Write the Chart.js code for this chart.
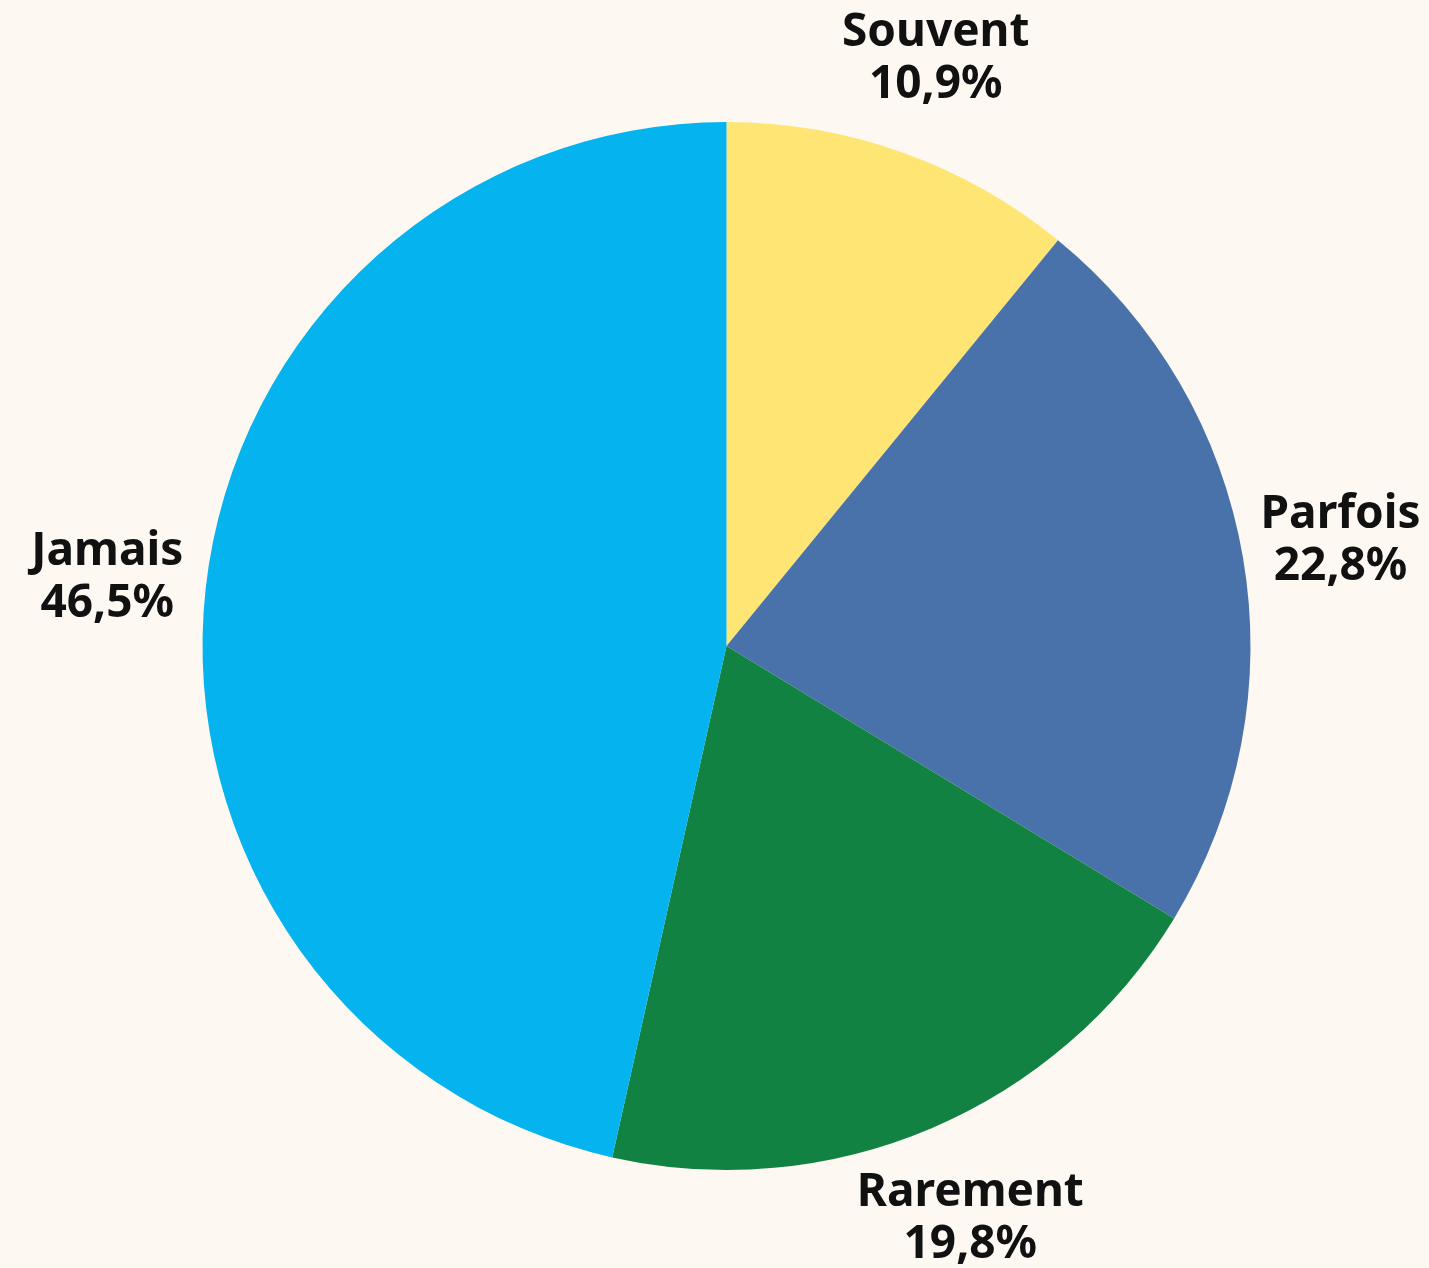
<!DOCTYPE html>
<html lang="fr">
<head>
  <meta charset="UTF-8" />
  <title>Pie</title>
  <script src="https://cdn.jsdelivr.net/npm/chart.js"></script>
  <style>
    html, body { margin: 0; padding: 0; background: #fdf8f2; }
    #wrap { width: 1429px; height: 1268px; }
  </style>
</head>
<body>
<div id="wrap"><canvas id="pie" width="1429" height="1268"></canvas></div>
<script>
  const categories = ['Souvent', 'Parfois', 'Rarement', 'Jamais'];
  const values = [10.9, 22.8, 19.8, 46.5];
  const colors = ['#ffe574', '#4a72aa', '#128242', '#05b3ee'];

  // labels outside each slice, centred on the mid angle
  const outerLabels = {
    id: 'outerLabels',
    afterDatasetsDraw(chart) {
      const ctx = chart.ctx;
      const meta = chart.getDatasetMeta(0);
      ctx.save();
      ctx.font = 'bold 46px "Noto Sans"';
      ctx.fillStyle = '#111';
      ctx.textAlign = 'center';
      ctx.textBaseline = 'middle';
      meta.data.forEach((arc, i) => {
        const mid = (arc.startAngle + arc.endAngle) / 2;
        const r = arc.outerRadius + 99;
        const x = arc.x + Math.cos(mid) * r;
        const y = arc.y + Math.sin(mid) * r;
        const pct = values[i].toFixed(1).replace('.', ',') + '%';
        ctx.fillText(categories[i], x, y - 26);
        ctx.fillText(pct, x, y + 26);
      });
      ctx.restore();
    }
  };

  new Chart(document.getElementById('pie').getContext('2d'), {
    type: 'pie',
    data: {
      labels: categories,
      datasets: [{
        data: values,
        backgroundColor: colors,
        borderWidth: 0
      }]
    },
    options: {
      responsive: false,
      animation: false,
      devicePixelRatio: 1,
      layout: { padding: { left: 202, right: 178, top: 122, bottom: 98 } },
      plugins: {
        legend: { display: false },
        tooltip: { enabled: false }
      }
    },
    plugins: [outerLabels]
  });
</script>
</body>
</html>
